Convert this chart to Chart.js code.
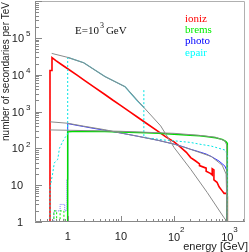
<!DOCTYPE html>
<html>
<head>
<meta charset="utf-8">
<script src="https://cdn.jsdelivr.net/npm/chart.js@4.4.1/dist/chart.umd.min.js"></script>
<style>
  html, body { margin: 0; padding: 0; background: #fff; }
  canvas { display: block; }
</style>
</head>
<body>
<canvas id="chart" width="249" height="252"></canvas>
<script>
// ioniz (red) - energies [GeV] and counts per TeV
const ionizE = [0.465, 0.465, 0.507, 0.507, 0.6, 0.8, 1, 1.5, 2, 3, 5, 7, 10, 15, 20, 30, 50, 70, 100, 130, 170, 205, 250, 300, 300, 400, 400, 480, 500, 520, 520, 560, 560, 640, 700, 800, 870, 960, 1000, 1000];
const ionizN = [0.1, 13000, 13000, 29000, 24000, 18000, 14500, 9700, 7200, 4800, 2900, 2050, 1450, 960, 720, 480, 290, 205, 150, 110, 78, 56, 46, 38, 34, 29, 24, 21, 20, 19, 28, 26, 14, 12, 9, 7, 6, 6, 5, 0.1];

// brems (green)
const bremsE = [1, 1, 1.5, 2, 3, 5, 7, 10, 20, 30, 50, 70, 100, 200, 300, 400, 600, 800, 900, 950, 990, 1000, 1000];
const bremsN = [0.1, 280, 290, 285, 292, 285, 280, 278, 270, 265, 255, 250, 240, 225, 218, 210, 195, 175, 160, 150, 140, 130, 0.1];
const bremsLowE = [0.55, 0.55, 0.62, 0.62, 0.72, 0.72, 0.85, 0.85];
const bremsLowN = [0.1, 2, 2, 1, 1, 2, 2, 0.1];

// photo (blue)
const photoLowE = [0.55, 0.55, 0.62, 0.62, 0.72, 0.72, 0.88, 0.88, 0.96, 0.96, 1];
const photoLowN = [0.1, 2, 2, 2, 2, 3, 3, 2, 2, 14, 14];
const photoE = [1, 1, 1.5, 2, 3, 5, 10, 20, 50, 100, 150, 200, 300, 400, 500, 700, 900, 980, 1000, 1000];
const photoN = [14, 470, 420, 390, 350, 310, 260, 215, 165, 130, 110, 95, 80, 70, 60, 45, 33, 25, 20, 0.1];

// epair (cyan)
const epairLowE = [0.465, 0.465, 0.52, 0.56, 0.6, 0.65, 0.7, 0.8, 0.9, 1, 1];
const epairLowN = [0.1, 8.6, 20, 40, 45, 50, 100, 150, 200, 245, 29500];
const epairE = [1, 2, 5, 12, 20, 27];
const epairN = [29500, 21000, 8900, 4700, 2000, 1290];
const epairHighE = [27, 27, 30, 30, 40, 60, 100, 200, 300, 500, 700, 900, 1000, 1000];
const epairHighN = [3800, 200, 200, 190, 185, 170, 160, 145, 130, 115, 100, 90, 70, 0.1];

// grey reference curves
const theoEpairE = [0.5, 1, 2, 5, 12, 27, 56, 100, 205, 420, 870, 1000];
const theoEpairN = [37800, 29500, 21000, 8900, 4700, 1290, 405, 105, 27, 6.3, 1.3, 1];
const theoPhotoE = [0.465, 1, 2, 5, 10, 20, 50, 100, 200, 500, 800, 950, 1000];
const theoPhotoN = [525, 480, 400, 320, 260, 215, 165, 130, 95, 60, 35, 20, 1];
const theoBremsE = [0.465, 1, 10, 100, 300, 600, 900, 980, 1000];
const theoBremsN = [316, 310, 290, 255, 225, 200, 160, 120, 1];

const legendNames = ['ioniz', 'brems', 'photo', 'epair'];
const legendColors = ['#ff0000', '#00ee00', '#0000ff', '#00ffff'];

const xTicks = [1, 10, 100, 1000];
const yTicks = [1, 10, 100, 1000, 10000, 100000];

function pts(xs, ys) {
    return xs.map((x, i) => ({ x: x, y: ys[i] }));
}

function series(label, xs, ys, color, width, dash) {
    return {
        label: label,
        data: pts(xs, ys),
        borderColor: color,
        borderWidth: width,
        borderDash: dash || [],
        pointRadius: 0,
        fill: false,
        tension: 0
    };
}

const axesPlugin = {
    id: 'rootAxes',
    afterDatasetsDraw(chart) {
        const { ctx, chartArea: a, scales: { x, y } } = chart;
        ctx.save();
        ctx.lineWidth = 1;
        ctx.strokeStyle = '#b0b0b0';
        ctx.beginPath();
        ctx.moveTo(a.left, a.top + 0.5);
        ctx.lineTo(a.right - 0.5, a.top + 0.5);
        ctx.lineTo(a.right - 0.5, a.bottom);
        ctx.stroke();

        ctx.strokeStyle = '#888';
        ctx.beginPath();
        ctx.moveTo(a.left + 0.5, a.top);
        ctx.lineTo(a.left + 0.5, a.bottom - 0.5);
        ctx.lineTo(a.right, a.bottom - 0.5);
        // y ticks
        for (let d = 0; d <= 6; d++) {
            for (let m = 1; m <= 9; m++) {
                const v = m * Math.pow(10, d);
                if (v > 1e6) break;
                const py = Math.round(y.getPixelForValue(v)) + 0.5;
                const len = m === 1 ? 7 : 4;
                ctx.moveTo(a.left, py);
                ctx.lineTo(a.left + len, py);
            }
        }
        // x ticks
        for (let d = -1; d <= 3; d++) {
            for (let m = 1; m <= 9; m++) {
                const v = m * Math.pow(10, d);
                if (v < x.min || v > x.max) continue;
                const px = Math.round(x.getPixelForValue(v)) + 0.5;
                const len = m === 1 ? 6 : 3;
                ctx.moveTo(px, a.bottom);
                ctx.lineTo(px, a.bottom - len);
            }
        }
        ctx.stroke();

        // tick labels
        ctx.fillStyle = '#222';
        const big = '11px "Liberation Sans", Arial, sans-serif';
        const sup = '8px "Liberation Sans", Arial, sans-serif';
        yTicks.forEach(v => {
            const py = y.getPixelForValue(v);
            const exp = Math.round(Math.log10(v));
            ctx.font = big;
            ctx.textBaseline = 'middle';
            ctx.textAlign = 'right';
            if (exp <= 1) {
                ctx.fillText(String(v), 23, py + 1);
            } else {
                ctx.fillText('10', 24, py + 1);
                ctx.font = sup;
                ctx.textAlign = 'left';
                ctx.fillText(String(exp), 26, py - 4);
            }
        });
        xTicks.forEach(v => {
            const px = x.getPixelForValue(v);
            const exp = Math.round(Math.log10(v));
            ctx.font = big;
            ctx.textBaseline = 'middle';
            ctx.textAlign = 'center';
            if (exp <= 1) {
                ctx.fillText(String(v), px, 237);
            } else {
                ctx.fillText('10', px, 238);
                ctx.font = sup;
                ctx.textAlign = 'left';
                ctx.fillText(String(exp), px + 6, 230);
            }
        });

        // axis titles
        ctx.font = '11px "Liberation Sans", Arial, sans-serif';
        ctx.textAlign = 'right';
        ctx.textBaseline = 'middle';
        ctx.fillText('energy [GeV]', 248, 247);
        ctx.save();
        ctx.translate(6, 2);
        ctx.rotate(-Math.PI / 2);
        ctx.font = '10px "Liberation Sans", Arial, sans-serif';
        ctx.fillText('number of secondaries per TeV', 0, 0);
        ctx.restore();

        // energy label and legend
        ctx.textAlign = 'left';
        ctx.font = '11px "Liberation Serif", "Times New Roman", serif';
        ctx.fillStyle = '#111';
        ctx.fillText('E=10', 75, 31);
        const w = ctx.measureText('E=10').width;
        ctx.font = '8px "Liberation Serif", "Times New Roman", serif';
        ctx.fillText('3', 75 + w + 1, 26);
        ctx.font = '11px "Liberation Serif", "Times New Roman", serif';
        ctx.fillText('GeV', 75 + w + 7, 31);

        legendNames.forEach((name, i) => {
            ctx.fillStyle = legendColors[i];
            ctx.fillText(name, 185, 19 + i * 11.3);
        });
        ctx.restore();
    }
};

new Chart(document.getElementById('chart'), {
    type: 'line',
    data: {
        datasets: [
            series('theoEpair', theoEpairE, theoEpairN, '#8a8a8a', 1),
            series('theoPhoto', theoPhotoE, theoPhotoN, '#8a8a8a', 1),
            series('theoBrems', theoBremsE, theoBremsN, '#8a8a8a', 1),
            series('epairLow', epairLowE, epairLowN, '#00e5e5', 1, [2, 2]),
            series('epair', epairE, epairN, '#33bbcc', 1.2),
            series('epairHigh', epairHighE, epairHighN, '#00e5e5', 1, [2, 2]),
            series('bremsLow', bremsLowE, bremsLowN, '#00ee00', 1, [2, 2]),
            series('brems', bremsE, bremsN, '#00dd00', 1.5),
            series('photoLow', photoLowE, photoLowN, '#7777ff', 1, [1, 1]),
            series('photo', photoE, photoN, '#3333ff', 1),
            series('ioniz', ionizE, ionizN, '#ff0000', 1.6)
        ]
    },
    options: {
        responsive: false,
        devicePixelRatio: 1,
        animation: false,
        layout: { padding: { left: 0, right: 4, top: 1, bottom: 0 } },
        plugins: { legend: { display: false }, tooltip: { enabled: false } },
        scales: {
            x: {
                type: 'logarithmic',
                min: 0.243,
                max: 2150,
                grid: { display: false },
                border: { display: false },
                ticks: { display: false },
                afterFit(scale) { scale.height = 30; }
            },
            y: {
                type: 'logarithmic',
                min: 1,
                max: 1e6,
                grid: { display: false },
                border: { display: false },
                ticks: { display: false },
                afterFit(scale) { scale.width = 35; }
            }
        }
    },
    plugins: [axesPlugin]
});
</script>
</body>
</html>
